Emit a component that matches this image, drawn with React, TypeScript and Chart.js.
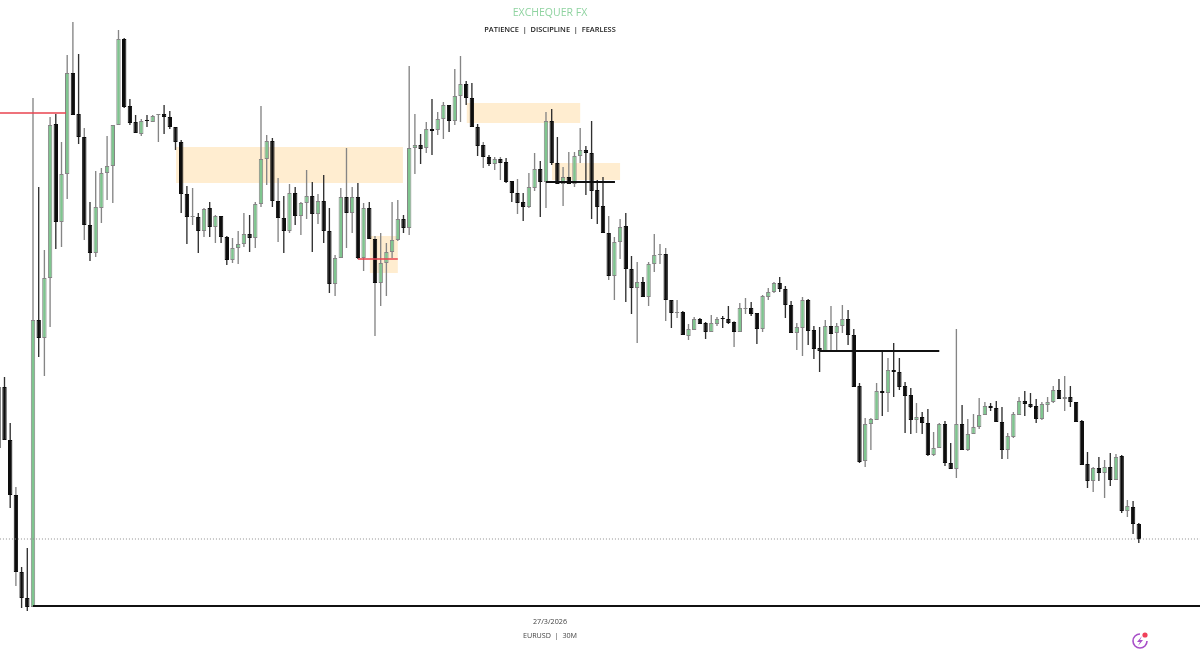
import React, { useEffect, useRef } from "react";
import { Chart, registerables } from "chart.js";

Chart.register(...registerables);

// Values are points above 1.15000 (EURUSD, 30M). The first candle is cut by the left edge.
const opens = [202,263,210,155,78,52,43,330,312,372,526,428,476,577,536,513,425,397,442,477,484,525,611,544,528,516,530,528,535,536,533,523,508,456,433,433,419,442,423,434,413,390,402,406,416,412,446,491,509,449,432,419,457,434,447,454,436,449,419,366,392,453,437,453,392,442,411,367,387,398,410,431,422,502,505,502,521,520,531,545,529,554,566,552,523,505,493,486,491,488,469,457,448,443,462,481,468,529,487,466,473,466,494,500,497,460,444,417,374,408,424,381,362,368,353,386,395,396,350,337,338,314,320,331,327,318,326,332,331,328,318,341,342,337,321,353,358,367,361,345,317,322,350,320,302,299,324,317,324,331,315,264,189,226,230,259,257,280,278,264,255,230,233,227,195,202,226,187,181,226,200,216,223,235,244,242,228,200,213,235,249,246,244,231,245,248,260,251,253,248,229,186,169,182,177,183,170,194,139,143,126];
const highs = [263,273,227,163,83,102,552,463,400,533,536,508,595,628,596,522,448,479,482,514,525,620,612,551,535,531,535,535,536,545,539,523,510,464,462,437,442,448,435,434,414,412,419,437,435,448,544,515,512,472,454,466,463,448,480,468,456,475,442,395,462,502,463,467,447,448,414,417,407,448,450,435,584,536,516,528,551,538,548,545,581,594,569,567,526,508,495,493,493,492,469,471,457,477,497,489,538,541,513,483,498,498,522,504,529,470,473,434,413,431,437,394,388,373,388,416,406,402,350,350,339,326,333,332,328,335,333,334,344,329,347,352,348,337,355,362,368,373,364,349,327,353,351,324,323,330,344,327,345,340,321,267,232,232,267,298,292,307,292,268,262,247,238,241,218,227,229,207,321,245,231,236,252,248,247,249,243,217,238,253,259,257,251,248,253,264,271,274,264,248,230,198,183,193,190,197,196,195,150,149,127];
const lows = [202,210,142,64,42,39,43,293,274,323,401,403,451,535,506,410,389,393,427,450,447,525,542,525,517,514,523,528,508,516,521,500,437,406,425,397,413,413,407,407,385,387,386,403,398,402,443,465,443,408,397,417,425,415,431,398,426,407,357,354,392,402,417,391,379,411,314,344,354,392,409,417,415,476,486,497,495,515,511,518,525,528,545,523,494,482,484,480,470,467,448,436,429,442,459,433,442,485,466,444,466,463,487,455,431,426,417,370,350,391,348,336,307,353,344,378,386,329,322,332,315,310,320,326,311,318,324,322,326,303,318,336,334,306,318,350,357,358,332,317,300,294,305,291,278,298,298,300,317,305,263,187,183,200,230,234,238,253,260,217,216,217,216,194,194,202,184,181,172,200,199,216,221,235,239,228,191,191,212,235,234,242,227,230,238,247,251,239,243,228,185,162,158,169,152,164,170,137,133,116,107];
const closes = [263,210,155,78,52,43,330,312,372,525,428,476,577,535,513,425,397,443,477,484,525,611,543,527,517,529,529,534,536,533,523,508,456,433,434,419,441,423,434,413,390,402,406,416,412,446,491,509,449,432,419,457,434,447,454,436,449,419,366,392,453,437,453,392,442,411,367,387,398,410,431,422,502,505,501,521,519,531,545,529,554,566,552,523,504,493,486,491,487,468,457,447,443,463,481,468,529,487,466,473,466,494,500,497,459,443,417,374,408,423,381,362,368,353,386,395,396,350,337,338,315,321,331,326,318,327,331,331,327,318,342,342,336,321,354,358,367,361,345,317,323,350,319,301,299,324,316,324,331,315,263,188,226,231,259,257,280,278,263,254,230,233,227,195,202,226,187,181,226,200,216,223,235,244,242,228,200,214,236,249,246,243,231,246,248,260,251,253,248,228,185,169,182,177,183,170,193,139,144,126,111];
const firstCandleIndex = -1;
// falling candles whose wick reads pale grey in the picture
const paleWickCandles = [2, 12, 14, 48, 60, 65, 84, 87, 90, 99, 106, 116, 128, 145];

// [from candle, to candle, top, bottom]
const zoneStarts = [30.1, 81.1, 96.05, 64.1];
const zoneEnds = [69.9, 101, 108, 69];
const zoneTops = [503, 547, 487, 414];
const zoneBottoms = [467, 527, 470, 377];

const redLevels = [537, 391];
const redFrom = [-0.8, 62];
const redTo = [10.8, 69];
const blackLevels = [468, 299];
const blackFrom = [95, 143];
const blackTo = [107.1, 164];
const baseLevel = 44;
const lastPrice = 111;

const titleText = "EXCHEQUER FX";
const subtitleText = "PATIENCE  |  DISCIPLINE  |  FEARLESS";
const dateText = "27/3/2026";
const symbolText = "EURUSD  |  30M";

const UP = "#7fc58f";
const DOWN = "#0d0d0d";
const UP_EDGE = "#858585";
const DOWN_WICK = "#303030";
const ZONE = "#ffedd0";
const FONT = '"Open Sans", "Noto Sans", sans-serif';

const overlayPlugin = {
  id: "overlay",
  beforeDatasetsDraw(chart: any) {
    const { ctx, scales } = chart;
    ctx.save();
    ctx.fillStyle = ZONE;
    zoneStarts.forEach((s, i) => {
      const x0 = scales.x.getPixelForValue(s);
      const x1 = scales.x.getPixelForValue(zoneEnds[i]);
      const y0 = scales.y.getPixelForValue(zoneTops[i]);
      const y1 = scales.y.getPixelForValue(zoneBottoms[i]);
      ctx.fillRect(x0, y0, x1 - x0, y1 - y0);
    });
    ctx.restore();
  },
  afterDraw(chart: any) {
    const { ctx } = chart;
    ctx.save();
    ctx.textAlign = "center";
    ctx.textBaseline = "middle";
    ctx.fillStyle = "#8fd3a0";
    ctx.font = `500 10.5px ${FONT}`;
    ctx.fillText(titleText, 550, 13);
    ctx.fillStyle = "#222222";
    ctx.font = `600 7.4px ${FONT}`;
    ctx.fillText(subtitleText, 550, 30);
    ctx.fillStyle = "#444444";
    ctx.font = `500 7.2px ${FONT}`;
    ctx.fillText(dateText, 550, 622);
    ctx.fillText(symbolText, 550, 636);

    // app badge
    ctx.strokeStyle = "#a84fc8";
    ctx.lineWidth = 1.6;
    ctx.beginPath();
    ctx.arc(1140, 641, 7, 0, 1.5 * Math.PI);
    ctx.stroke();
    ctx.fillStyle = "#a84fc8";
    ctx.beginPath();
    ctx.moveTo(1142, 636);
    ctx.lineTo(1137, 642);
    ctx.lineTo(1140, 642);
    ctx.lineTo(1138, 646);
    ctx.lineTo(1143, 640);
    ctx.lineTo(1140, 640);
    ctx.closePath();
    ctx.fill();
    ctx.fillStyle = "#f0405a";
    ctx.beginPath();
    ctx.arc(1145, 635, 2.6, 0, Math.PI * 2);
    ctx.fill();
    ctx.restore();
  },
};

export default function App() {
  const ref = useRef<HTMLCanvasElement>(null);

  useEffect(() => {
    const idx = opens.map((_, i) => i + firstCandleIndex);
    const isUp = opens.map((o, i) => closes[i] >= o);
    const segment = (x0: number, x1: number, v: number) => [
      { x: x0, y: v },
      { x: x1, y: v },
    ];
    const levelLine = (data: any[], color: string, width: number, dash: number[] = []) => ({
      type: "line" as const,
      data,
      borderColor: color,
      borderWidth: width,
      borderDash: dash,
      pointRadius: 0,
      order: 0,
      parsing: false as const,
      fill: false,
    });

    const chart = new Chart(ref.current!, {
      type: "bar",
      data: {
        datasets: [
          {
            type: "bar",
            stack: "candles",
            data: idx.map((x, i) => ({ x, y: [lows[i], highs[i]] })),
            backgroundColor: idx.map((x, i) => (isUp[i] || paleWickCandles.includes(x) ? UP_EDGE : DOWN_WICK)),
            borderWidth: 0,
            barThickness: 1.35,
            inflateAmount: 0,
            order: 3,
          },
          {
            type: "bar",
            stack: "candles",
            data: idx.map((x, i) => ({ x, y: [opens[i], closes[i]] })),
            backgroundColor: isUp.map((u) => (u ? UP : DOWN)),
            borderColor: isUp.map((u) => (u ? UP_EDGE : DOWN)),
            borderWidth: 1,
            borderSkipped: false,
            barThickness: 4.4,
            inflateAmount: 0,
            order: 2,
          },
          levelLine(segment(-0.8, 209.8, lastPrice), "#8f8f8f", 1, [1, 2]),
          ...redLevels.map((v, i) => levelLine(segment(redFrom[i], redTo[i], v), "#e8434f", 1.5)),
          ...blackLevels.map((v, i) => levelLine(segment(blackFrom[i], blackTo[i], v), "#111111", 1.8)),
          levelLine(segment(5, 209.8, baseLevel), "#111111", 2),
        ] as any,
      },
      options: {
        responsive: false,
        animation: false,
        layout: { padding: 0 },
        plugins: { legend: { display: false }, tooltip: { enabled: false }, title: { display: false } },
        scales: {
          x: { type: "linear", display: false, stacked: true, min: -0.789, max: 209.74, offset: false, grid: { display: false } },
          y: { type: "linear", display: false, stacked: false, min: -2, max: 650, grid: { display: false } },
        },
      },
      plugins: [overlayPlugin],
    });
    return () => chart.destroy();
  }, []);

  return (
    <div style={{ position: "fixed", left: 0, top: 0, width: 1200, height: 652, background: "#ffffff" }}>
      <canvas ref={ref} width={1200} height={652} style={{ display: "block" }} />
    </div>
  );
}
